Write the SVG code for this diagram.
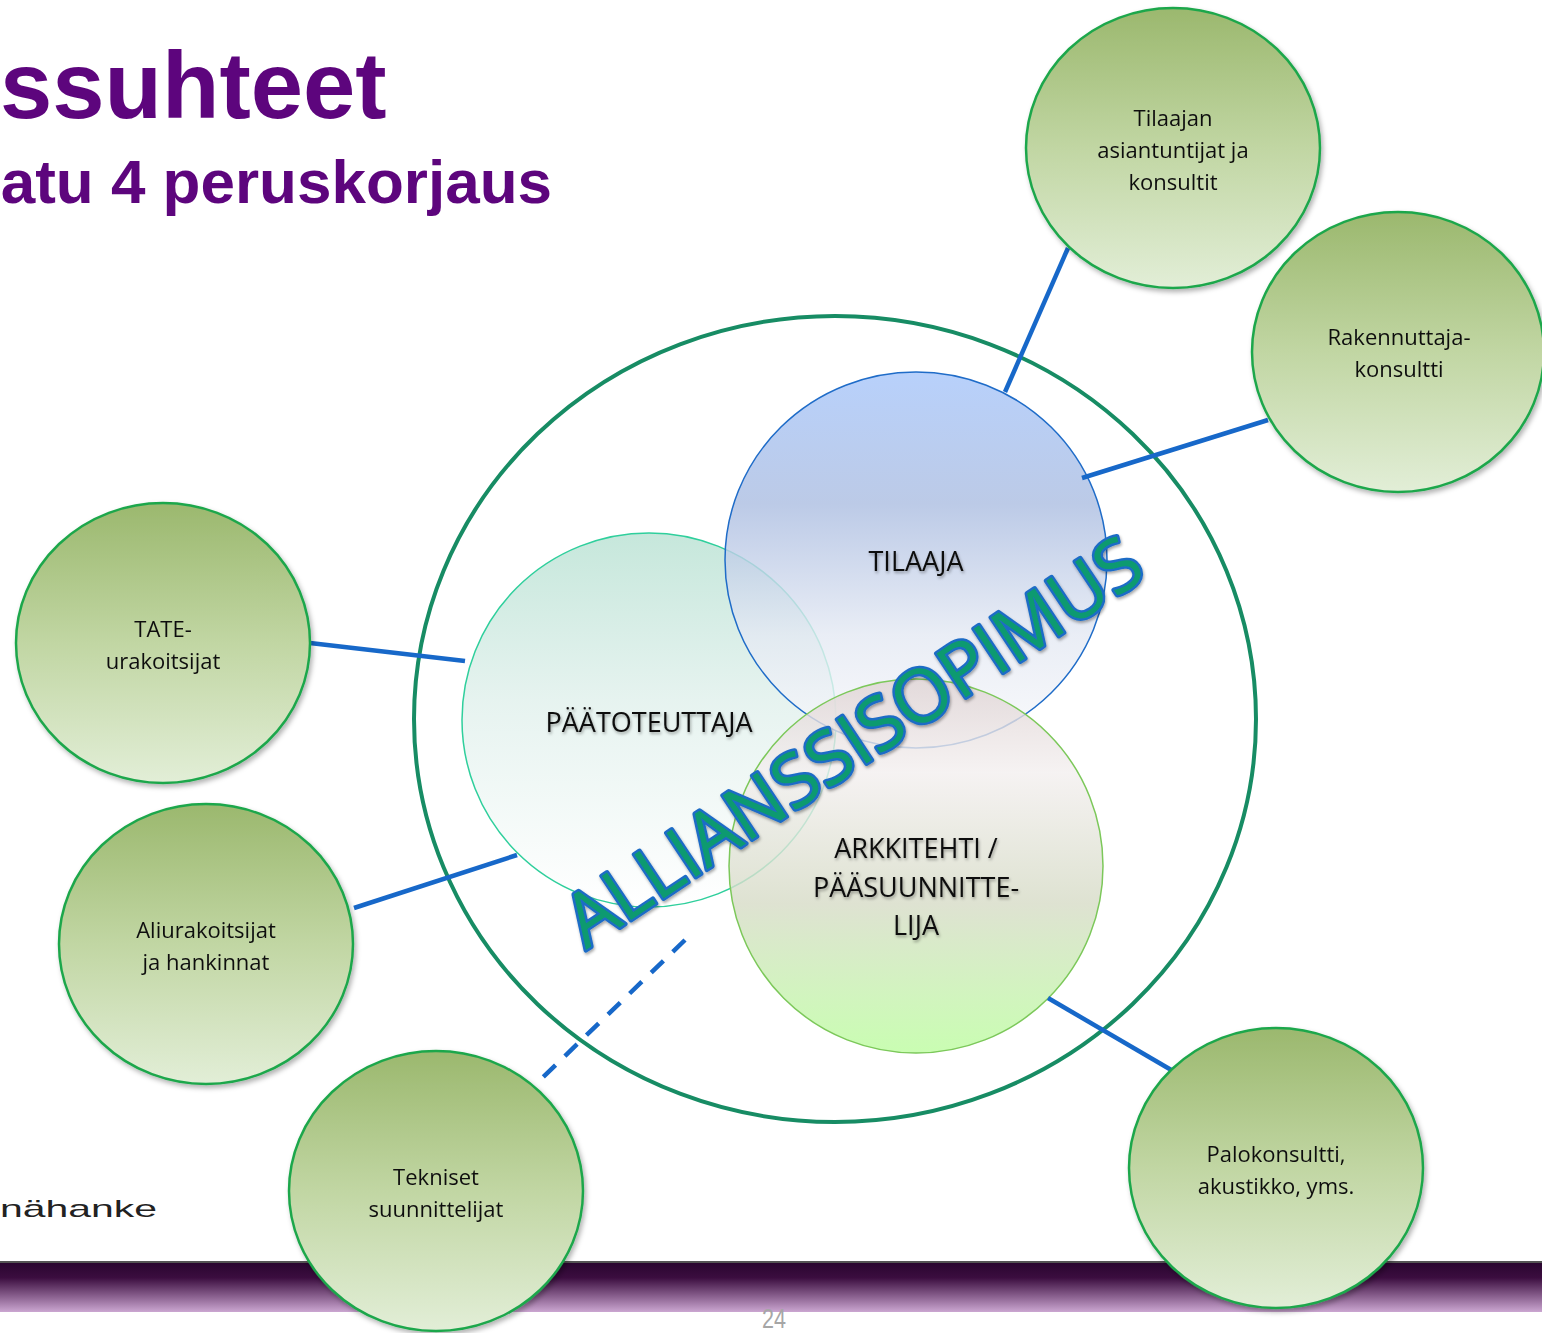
<svg xmlns="http://www.w3.org/2000/svg" width="1542" height="1333" viewBox="0 0 1542 1333">
<defs>
<style>
.title{font-family:"Liberation Sans",Arial,sans-serif;font-weight:bold;fill:#5d057d}
.lbl{font-family:"Open Sans","Noto Sans",sans-serif;font-size:22px;fill:#111;text-anchor:middle}
.ilbl{font-family:"Open Sans","Noto Sans",sans-serif;font-size:27px;fill:#111;text-anchor:middle}
.sat{fill:url(#gGreen);stroke:#1fa74c;stroke-width:2.5}
.con{stroke:#1768c9;stroke-width:4.5;fill:none}
</style>
<linearGradient id="gGreen" x1="0" y1="0" x2="0" y2="1">
<stop offset="0" stop-color="#9bb86e"/>
<stop offset="0.5" stop-color="#c1d6a3"/>
<stop offset="1" stop-color="#e2eed7"/>
</linearGradient>
<linearGradient id="gBlue" x1="0" y1="0" x2="0" y2="1">
<stop offset="0" stop-color="#a6c5fa"/>
<stop offset="0.35" stop-color="#abbde1"/>
<stop offset="0.7" stop-color="#e4e9f3"/>
<stop offset="1" stop-color="#f9f9fb"/>
</linearGradient>
<linearGradient id="gTeal" x1="0" y1="0" x2="0" y2="1">
<stop offset="0" stop-color="#bce3d5"/>
<stop offset="0.45" stop-color="#e2f1ed"/>
<stop offset="1" stop-color="#ffffff"/>
</linearGradient>
<linearGradient id="gArk" x1="0" y1="0" x2="0" y2="1">
<stop offset="0" stop-color="#dfd3d3"/>
<stop offset="0.25" stop-color="#f3efef"/>
<stop offset="0.6" stop-color="#d6dbc6"/>
<stop offset="0.85" stop-color="#c6f2ae"/>
<stop offset="1" stop-color="#bcfd9f"/>
</linearGradient>
<linearGradient id="gBar" x1="0" y1="0" x2="0" y2="1">
<stop offset="0" stop-color="#2a0630"/>
<stop offset="0.3" stop-color="#3b0d3f"/>
<stop offset="1" stop-color="#cba6d1"/>
</linearGradient>
<filter id="sh" x="-10%" y="-10%" width="125%" height="125%">
<feDropShadow dx="2" dy="3" stdDeviation="2.5" flood-color="#000" flood-opacity="0.3"/>
</filter>
<filter id="tsh" x="-10%" y="-30%" width="120%" height="160%">
<feDropShadow dx="1" dy="2" stdDeviation="1.5" flood-color="#000" flood-opacity="0.35"/>
</filter>
</defs>
<rect width="1542" height="1333" fill="#ffffff"/>

<g id="title">
<text class="title" x="0" y="118" font-size="94">ssuhteet</text>
<text class="title" x="552" y="203" font-size="62" text-anchor="end">atu 4 peruskorjaus</text>
</g>

<g id="footer">
<text x="0" y="1217" font-family="Liberation Sans,Arial,sans-serif" font-size="24" fill="#222" textLength="157" lengthAdjust="spacingAndGlyphs">nähanke</text>
<rect x="0" y="1261" width="1542" height="2" fill="#555"/>
<rect x="0" y="1263" width="1542" height="49" fill="url(#gBar)"/>
<text x="774" y="1328" font-family="Liberation Sans,Arial,sans-serif" font-size="27" fill="#a6a6a6" text-anchor="middle" transform="translate(774 0) scale(0.8 1) translate(-774 0)">24</text>
</g>

<g id="alliance-circle">
<ellipse cx="835" cy="719" rx="421" ry="403" fill="none" stroke="#178c64" stroke-width="4"/>
</g>

<g id="paatoteuttaja">
<circle cx="649" cy="720" r="187" fill="url(#gTeal)" fill-opacity="0.85" stroke="#2fcf9c" stroke-width="1.5"/>
</g>
<g id="tilaaja">
<ellipse cx="916" cy="560" rx="191" ry="188" fill="url(#gBlue)" fill-opacity="0.8" stroke="#1f6cc8" stroke-width="1.5"/>
</g>
<g id="arkkitehti">
<circle cx="916" cy="866" r="187" fill="url(#gArk)" fill-opacity="0.8" stroke="#7cc85a" stroke-width="1.5"/>
</g>

<g id="inner-labels" filter="url(#tsh)">
<text class="ilbl" x="916" y="571">TILAAJA</text>
<text class="ilbl" x="649" y="732">PÄÄTOTEUTTAJA</text>
<text class="ilbl" x="916" y="858">ARKKITEHTI /</text>
<text class="ilbl" x="916" y="897">PÄÄSUUNNITTE-</text>
<text class="ilbl" x="916" y="935">LIJA</text>
</g>

<g id="connectors">
<line class="con" x1="1068" y1="248" x2="1005" y2="392"/>
<line class="con" x1="1268" y1="420" x2="1082" y2="478"/>
<line class="con" x1="310" y1="643" x2="465" y2="661"/>
<line class="con" x1="354" y1="908" x2="517" y2="855"/>
<line class="con" x1="1048" y1="998" x2="1173" y2="1071"/>
<line class="con" x1="685" y1="940" x2="537" y2="1083" stroke-dasharray="17 13"/>
</g>

<g id="allianssisopimus" filter="url(#tsh)">
<text x="0" y="0" transform="translate(586 950) rotate(-33.6)" font-family="Open Sans,Noto Sans,sans-serif" font-size="74" fill="#0f9a70" stroke="#1f6cc6" stroke-width="5" stroke-linejoin="round" paint-order="stroke" textLength="676" lengthAdjust="spacingAndGlyphs">ALLIANSSISOPIMUS</text>
</g>

<g id="tilaajan-asiantuntijat" filter="url(#sh)">
<ellipse class="sat" cx="1173" cy="148" rx="147" ry="140"/>
<text class="lbl" x="1173" y="126">Tilaajan</text>
<text class="lbl" x="1173" y="158">asiantuntijat ja</text>
<text class="lbl" x="1173" y="190">konsultit</text>
</g>
<g id="rakennuttajakonsultti" filter="url(#sh)">
<ellipse class="sat" cx="1398" cy="352" rx="146" ry="140"/>
<text class="lbl" x="1399" y="345">Rakennuttaja-</text>
<text class="lbl" x="1399" y="377">konsultti</text>
</g>
<g id="tate-urakoitsijat" filter="url(#sh)">
<ellipse class="sat" cx="163" cy="643" rx="147" ry="140"/>
<text class="lbl" x="163" y="637">TATE-</text>
<text class="lbl" x="163" y="669">urakoitsijat</text>
</g>
<g id="aliurakoitsijat" filter="url(#sh)">
<ellipse class="sat" cx="206" cy="944" rx="147" ry="140"/>
<text class="lbl" x="206" y="938">Aliurakoitsijat</text>
<text class="lbl" x="206" y="970">ja hankinnat</text>
</g>
<g id="tekniset-suunnittelijat" filter="url(#sh)">
<ellipse class="sat" cx="436" cy="1191" rx="147" ry="140"/>
<text class="lbl" x="436" y="1185">Tekniset</text>
<text class="lbl" x="436" y="1217">suunnittelijat</text>
</g>
<g id="palokonsultti" filter="url(#sh)">
<ellipse class="sat" cx="1276" cy="1168" rx="147" ry="140"/>
<text class="lbl" x="1276" y="1162">Palokonsultti,</text>
<text class="lbl" x="1276" y="1194">akustikko, yms.</text>
</g>
</svg>
